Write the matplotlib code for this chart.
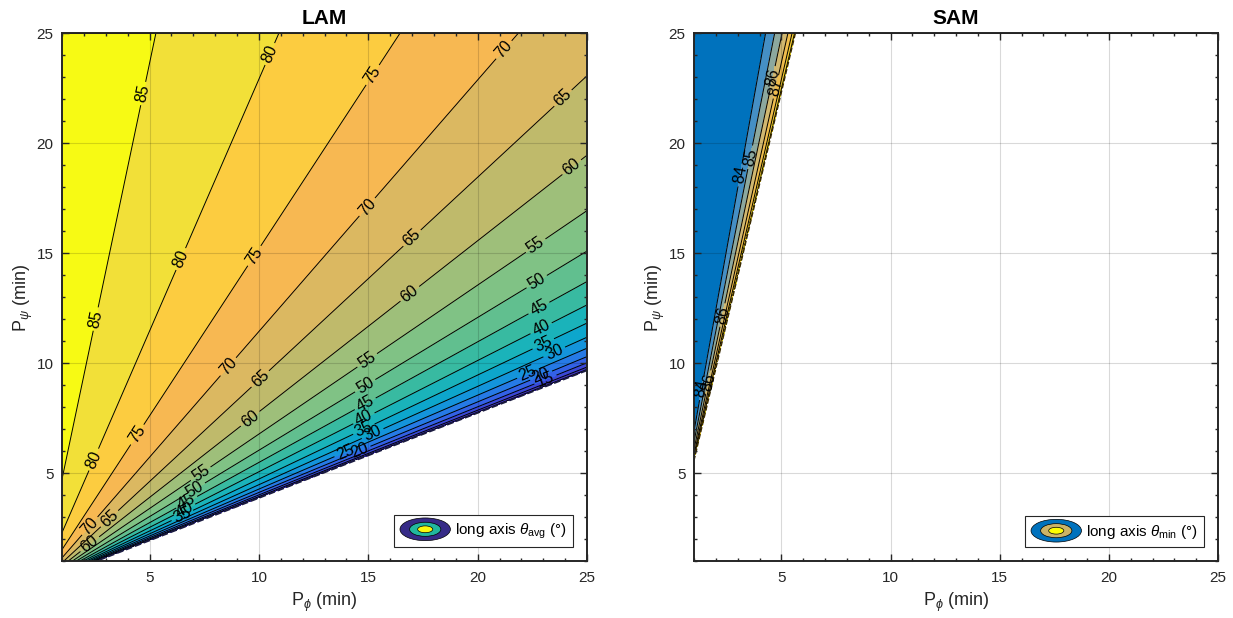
import numpy as np
import matplotlib
matplotlib.use("Agg")
import matplotlib.pyplot as plt
from matplotlib.legend_handler import HandlerBase
from matplotlib.patches import Ellipse, Patch
from matplotlib.ticker import MultipleLocator

plt.rcParams["font.family"] = ["Liberation Sans", "DejaVu Sans"]
plt.rcParams["mathtext.fontset"] = "custom"
plt.rcParams["mathtext.rm"] = "Liberation Sans"
plt.rcParams["mathtext.it"] = "Liberation Sans:italic"

# ============================================================
# 数据 (periods in min, angles in deg)
# ============================================================
p_lim = [1, 25]

# LAM: P_phi / P_psi = A_LAM * cos(theta_avg) + B_LAM  
A_LAM = 2.6
B_LAM = -0.015
lam_levels = [0, 5, 10, 15, 20, 25, 30, 35, 40, 45, 50, 55, 60, 65, 70, 75, 80, 85, 90]
lam_label_x = {
    85: [2.54, 4.71], 80: [2.45, 6.43, 10.5], 75: [4.44, 9.79, 15.2],
    70: [2.27, 8.6, 14.95, 21.2], 65: [3.17, 10.06, 17.0, 23.9],
    60: [2.27, 9.6, 16.9, 24.3], 55: [7.34, 14.95, 22.65], 50: [7.07, 14.86, 22.7],
    45: [6.7, 14.86, 22.8], 40: [6.6, 14.8, 22.9], 35: [6.5, 14.8, 23.0],
    30: [15.2, 23.5], 25: [13.95, 22.3], 20: [14.6, 22.9], 15: [23.1],
}

# SAM: P_phi / (P_psi - Y0_SAM) = C_SAM - D_SAM * cos^2(theta_min)
Y0_SAM = 1.4
C_SAM = 0.239
D_SAM = 5.3
sam_levels = [70, 84, 85, 86, 87, 88, 89, 90]
sam_label_x = {84: [3.11, 1.35], 85: [3.57], 86: [4.6, 2.3, 1.65], 87: [4.75]}

# band colours (lower level of each band)
LAM_BAND = [
    (0.24, 0.15, 0.66), (0.25, 0.20, 0.74), (0.23, 0.28, 0.84), (0.20, 0.38, 0.90),
    (0.15, 0.48, 0.90), (0.08, 0.58, 0.86), (0.05, 0.65, 0.80), (0.10, 0.70, 0.73),
    (0.22, 0.73, 0.63), (0.38, 0.75, 0.56), (0.50, 0.76, 0.52), (0.62, 0.75, 0.48),
    (0.75, 0.73, 0.42), (0.86, 0.72, 0.38), (0.97, 0.72, 0.32), (0.99, 0.80, 0.25),
    (0.95, 0.88, 0.22), (0.97, 0.98, 0.08),
]
SAM_BAND = [(0.0, 0.447, 0.741), (0.27, 0.56, 0.77), (0.55, 0.66, 0.62),
            (0.82, 0.72, 0.44), (0.94, 0.74, 0.30), (0.97, 0.80, 0.20), (0.99, 0.90, 0.10)]

x = np.linspace(p_lim[0], p_lim[1], 700)
X, Y = np.meshgrid(x, x)


class EllipseHandler(HandlerBase):
    def __init__(self, colors):
        super().__init__()
        self.colors = colors

    def create_artists(self, legend, orig_handle, xdescent, ydescent, width, height, fontsize, trans):
        cx, cy = width / 2 - xdescent, height / 2 - ydescent
        arts = []
        for c, s in zip(self.colors, [1.0, 0.62, 0.3]):
            arts.append(Ellipse((cx, cy), width * s, height * 1.45 * s, facecolor=c,
                                edgecolor="k", lw=0.5, transform=trans))
        return arts


def style_axes(ax, title):
    ax.set_xlim(p_lim)
    ax.set_ylim(p_lim)
    ax.xaxis.set_major_locator(MultipleLocator(5))
    ax.yaxis.set_major_locator(MultipleLocator(5))
    ax.xaxis.set_minor_locator(MultipleLocator(1))
    ax.yaxis.set_minor_locator(MultipleLocator(1))
    ax.tick_params(which="both", direction="in", top=True, right=True, labelsize=11,
                   colors="#262626", width=1.0)
    ax.tick_params(which="major", length=5)
    ax.tick_params(which="minor", length=2.5)
    ax.tick_params(axis="x", which="major", pad=7.5)
    ax.tick_params(axis="y", which="major", pad=6)
    for sp in ax.spines.values():
        sp.set_linewidth(1.4)
        sp.set_color("#262626")
    ax.set_axisbelow(False)
    ax.grid(True, which="major", color="k", alpha=0.15, lw=0.8)
    ax.set_title(title, fontsize=15, fontweight="bold", pad=7)
    ax.set_xlabel(r"P$_{\phi}$ (min)", fontsize=13, color="#262626", labelpad=4)
    ax.set_ylabel(r"P$_{\psi}$ (min)", fontsize=13, color="#262626", labelpad=1)


def add_legend(ax, label, colors):
    h = Patch()
    ax.legend([h], [label], handler_map={h: EllipseHandler(colors)}, loc="lower right",
              fontsize=11, fancybox=False, framealpha=1, edgecolor="#262626",
              handlelength=3.3, handleheight=1.2, handletextpad=0.3,
              borderaxespad=0.9, borderpad=0.42).get_frame().set_linewidth(0.8)


fig = plt.figure(figsize=(12.33, 6.18), dpi=100)
ax1 = fig.add_axes([0.0503, 0.0922, 0.4258, 0.854])
ax2 = fig.add_axes([0.5629, 0.0922, 0.4250, 0.854])

# ---------------- LAM ----------------
c_lam = (X / Y - B_LAM) / A_LAM
th_lam = np.where(c_lam <= 1, np.degrees(np.arccos(np.clip(c_lam, 0, 1))), np.nan)
ax1.contourf(X, Y, th_lam, levels=lam_levels, colors=LAM_BAND)
lab1 = sorted(lam_label_x)
ax1.contour(X, Y, th_lam, levels=[l for l in lam_levels[1:-1] if l not in lab1],
            colors="k", linewidths=0.7)
cs1 = ax1.contour(X, Y, th_lam, levels=lab1, colors="k", linewidths=0.7)
pos1 = [(xx, xx / (A_LAM * np.cos(np.radians(lev)) + B_LAM))
        for lev, xs in lam_label_x.items() for xx in xs]
ax1.clabel(cs1, manual=pos1, fontsize=11.5, inline_spacing=3, fmt="%d")
ax1.contour(X, Y, c_lam, levels=[1.0], colors="#1a1a40", linewidths=1.3, linestyles="--")
style_axes(ax1, "LAM")
add_legend(ax1, r"long axis $\theta_{\rm avg}$ (°)",
           [(0.21, 0.17, 0.53), (0.13, 0.72, 0.62), (0.98, 0.98, 0.05)])

# ---------------- SAM ----------------
dy = np.where(Y > Y0_SAM, Y - Y0_SAM, np.nan)
r_sam = X / dy
cos2 = (C_SAM - r_sam) / D_SAM
th_sam = np.where(r_sam <= C_SAM, np.degrees(np.arccos(np.sqrt(np.clip(cos2, 0, 1)))), np.nan)
ax2.contourf(X, Y, th_sam, levels=sam_levels, colors=SAM_BAND)
lab2 = sorted(sam_label_x)
ax2.contour(X, Y, th_sam, levels=[l for l in sam_levels[1:-1] if l not in lab2],
            colors="k", linewidths=0.7)
cs2 = ax2.contour(X, Y, th_sam, levels=lab2, colors="k", linewidths=0.7)
pos2 = [(xx, Y0_SAM + xx / (C_SAM - D_SAM * np.cos(np.radians(lev)) ** 2))
        for lev, xs in sam_label_x.items() for xx in xs]
ax2.clabel(cs2, manual=pos2, fontsize=11.5, inline_spacing=3, fmt="%d")
ax2.contour(X, Y, np.nan_to_num(r_sam, nan=9.0), levels=[C_SAM], colors="#3a2a00",
            linewidths=1.0, linestyles="--")
style_axes(ax2, "SAM")
add_legend(ax2, r"long axis $\theta_{\rm min}$ (°)",
           [(0.0, 0.447, 0.741), (0.80, 0.70, 0.40), (1.0, 1.0, 0.0)])

fig.savefig("out.png", dpi=100, facecolor="white")
